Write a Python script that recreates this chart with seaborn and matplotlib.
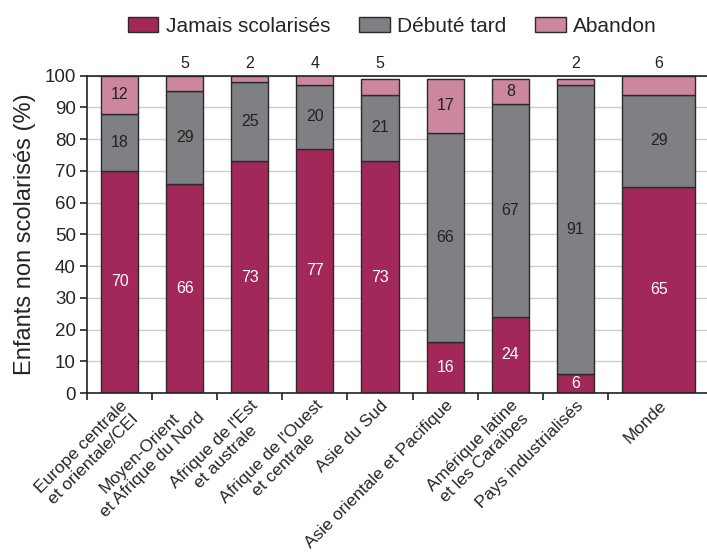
import matplotlib
matplotlib.use("Agg")
import matplotlib.pyplot as plt
import seaborn as sns
import numpy as np
import pandas as pd

categories = ["Europe centrale\net orientale/CEI", "Moyen-Orient\net Afrique du Nord",
              "Afrique de l'Est\net australe", "Afrique de l'Ouest\net centrale",
              "Asie du Sud", "Asie orientale et Pacifique",
              "Amérique latine\net les Caraïbes", "Pays industrialisés", "Monde"]
jamais = [70, 66, 73, 77, 73, 16, 24, 6, 65]
debute = [18, 29, 25, 20, 21, 66, 67, 91, 29]
abandon = [12, 5, 2, 4, 5, 17, 8, 2, 6]
series_names = ["Jamais scolarisés", "Débuté tard", "Abandon"]
y_label = "Enfants non scolarisés (%)"

colors = ["#A3285A", "#7E8084", "#CC879F"]
edge = "#2a2a2a"

sns.set_style("ticks")
plt.rcParams["font.family"] = ["Liberation Sans", "DejaVu Sans"]

df = pd.DataFrame({"cat": categories, "jamais": jamais, "debute": debute, "abandon": abandon})
b1 = np.zeros(len(df))
b2 = df["jamais"].to_numpy(dtype=float)
b3 = b2 + df["debute"].to_numpy(dtype=float)

fig = plt.figure(figsize=(7.07, 5.56), dpi=100)
ax = fig.add_axes([0.123, 0.293, 0.877, 0.571])

for col, bottom, color, name in zip(["jamais", "debute", "abandon"], [b1, b2, b3], colors, series_names):
    sns.barplot(data=df, x="cat", y=col, order=categories, bottom=bottom, color=color,
                width=0.57, edgecolor=edge, linewidth=1.0, saturation=1, ax=ax, label=name,
                err_kws={"linewidth": 0})

# widen the world ("Monde") bar, which sits in a wider slot
for cont in ax.containers:
    p = cont.patches[-1]
    p.set_width(1.12)
    p.set_x(8.28 - 0.56)

centers = [p.get_x() + p.get_width() / 2 for p in ax.containers[0].patches]

ax.set_ylim(0, 100)
ax.set_xlim(-0.5, 9.02)
ax.set_yticks(range(0, 101, 10))
ax.tick_params(axis="y", labelsize=13.5, length=5, width=1.2, color="#222222", direction="out", pad=3)
ax.yaxis.grid(True, color="#cdcdd6", linewidth=1.0)
ax.set_axisbelow(True)

ax.set_xticks(centers)
ax.set_xticklabels(categories, rotation=45, ha="right", rotation_mode="anchor",
                   multialignment="center", fontsize=12.6)
ax.tick_params(axis="x", length=0, pad=3.5)
ax.set_xticks(np.arange(-0.5, 8, 1.0), minor=True)
ax.tick_params(axis="x", which="minor", length=5, width=1.2, color="#222222", direction="out")

ax.set_xlabel("")
ax.set_ylabel(y_label, fontsize=17, labelpad=6)

for s in ["left", "bottom", "top"]:
    ax.spines[s].set_visible(True)
    ax.spines[s].set_color("#222222")
    ax.spines[s].set_linewidth(1.2)
ax.spines["right"].set_visible(False)

# labels
fs = 11.5
ax.bar_label(ax.containers[0], labels=[str(v) for v in jamais], label_type="center",
             color="white", fontsize=fs)
ax.bar_label(ax.containers[1], labels=[str(v) for v in debute], label_type="center",
             color="#222222", fontsize=fs)
inside = [str(v) if v >= 8 else "" for v in abandon]
ax.bar_label(ax.containers[2], labels=inside, label_type="center", color="#222222", fontsize=fs)
for x, v in zip(centers, abandon):
    if v < 8:
        ax.annotate(str(v), xy=(x, 100), xytext=(0, 3), textcoords="offset points",
                    ha="center", va="bottom", fontsize=fs, color="#222222",
                    annotation_clip=False)

handles = list(ax.containers)
leg = ax.get_legend()
if leg is not None:
    leg.remove()
fig.legend(handles=handles, labels=series_names, loc="center", bbox_to_anchor=(0.555, 0.953),
           ncol=3, frameon=False, fontsize=15, handlelength=1.45, handleheight=0.8,
           columnspacing=1.4, handletextpad=0.35)

fig.savefig("out.png", dpi=100)
